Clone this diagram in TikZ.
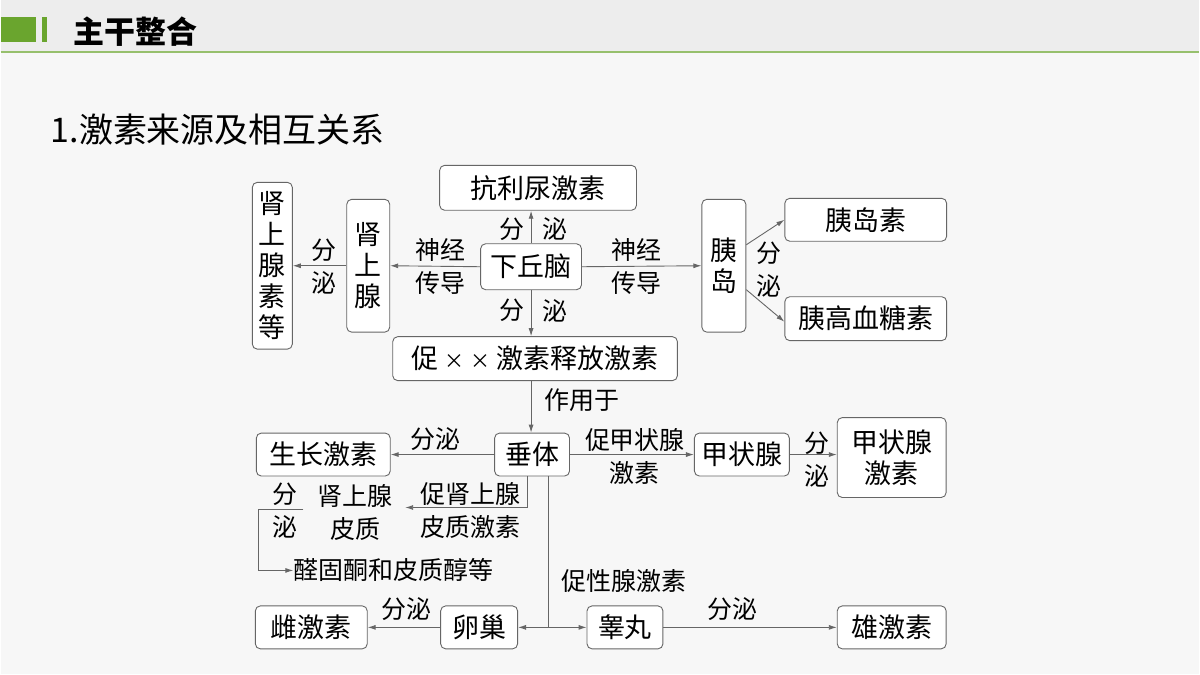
\documentclass[tikz,border=0pt]{standalone}
\usepackage{fontspec}
\setmainfont{Noto Sans CJK SC}
\usetikzlibrary{arrows.meta,positioning}
\definecolor{lineg}{HTML}{666666}
\definecolor{hdr}{HTML}{6AA52E}
\tikzset{
  box/.style={draw=lineg, rounded corners=5pt, line width=0.9pt, fill=white,
    inner sep=0pt, align=center, font=\fontsize{27}{31}\selectfont},
  lbl/.style={align=center, inner sep=0pt, font=\fontsize{25}{33}\selectfont},
  arr/.style={draw=lineg, line width=0.9pt, -{Latex[length=8pt,width=5pt]}},
  ln/.style={draw=lineg, line width=0.9pt}
}
\begin{document}
\begin{tikzpicture}[x=1pt,y=-1pt]

% background and header
\fill[white!95!black] (0,0) rectangle (1200,675);
\fill[white!97!black] (0,52) rectangle (1200,675);
\fill[white!93!black] (0,0) rectangle (1200,52);
\draw[hdr!70!white, line width=1.2pt] (0,52) -- (1200,52);
\fill[hdr] (0,17) rectangle (35,42);
\fill[hdr] (41,17) rectangle (46,42);
\node[anchor=west, inner sep=0pt, font=\fontsize{31}{31}\selectfont\bfseries] (head) at (73,32) {主干整合};
\node[anchor=west, inner sep=0pt, font=\fontsize{34}{34}\selectfont] (sub) at (50,130) {1.激素来源及相互关系};

% the boxes
\node[box, minimum width=40pt, minimum height=167pt] (adrs) at (272,266) {肾\\上\\腺\\素\\等};
\node[box, minimum width=43pt, minimum height=133pt] (adr) at (368,266) {肾\\上\\腺};
\node[box, minimum width=197pt, minimum height=45pt] (adh) at (538,188) {抗利尿激素};
\node[box, minimum width=101pt, minimum height=46pt] (hyp) at (531,267) {下丘脑};
\node[box, minimum width=44pt, minimum height=133pt] (islet) at (724,266) {胰\\岛};
\node[box, minimum width=162pt, minimum height=43pt] (ins) at (866,220) {胰岛素};
\node[box, minimum width=162pt, minimum height=44pt] (glu) at (866,319) {胰高血糖素};
\node[box, minimum width=285pt, minimum height=44pt] (rh) at (535,359) {促 {\fontsize{20}{20}\selectfont×} {\fontsize{20}{20}\selectfont×} 激素释放激素};
\node[box, minimum width=134pt, minimum height=43pt] (gh) at (323,455) {生长激素};
\node[box, minimum width=75pt, minimum height=43pt] (pit) at (532,455) {垂体};
\node[box, minimum width=95pt, minimum height=43pt] (thy) at (742,455) {甲状腺};
\node[box, minimum width=109pt, minimum height=80pt] (th) at (892,458) {甲状腺\\激素};
\node[box, minimum width=77pt, minimum height=43pt] (ova) at (479,628) {卵巢};
\node[box, minimum width=112pt, minimum height=43pt] (est) at (311,628) {雌激素};
\node[box, minimum width=76pt, minimum height=43pt] (tes) at (625,628) {睾丸};
\node[box, minimum width=109pt, minimum height=43pt] (andr) at (892,628) {雄激素};
\node[lbl, anchor=west] (cort) at (293,571) {醛固酮和皮质醇等};

% helper points
\coordinate (acA) at (527,508);
\coordinate (acB) at (405,508);
\coordinate (sdA) at (303,510);
\coordinate (sdB) at (258,510);
\coordinate (sdC) at (258,571);
\coordinate (gnA) at (548,628);

% connectors
\draw[arr] (hyp.west) -- (adr.east);
\draw[arr] (adr.west) -- (adrs.east);
\draw[arr] (hyp.north) -- (adh.south -| hyp.north);
\draw[arr] (hyp.south) -- (rh.north -| hyp.south);
\draw[arr] (hyp.east) -- (islet.west);
\draw[arr] ([yshift=21pt]islet.east) -- (ins.west);
\draw[arr] ([yshift=-24pt]islet.east) -- ([yshift=-3pt]glu.west);
\draw[arr] (rh.south -| hyp.south) -- (pit.north -| hyp.south);
\draw[arr] (pit.west) -- (gh.east);
\draw[arr] (pit.east) -- (thy.west);
\draw[arr] (thy.east) -- (th.west |- thy.east);
\draw[ln] (pit.south -| acA) -- (acA);
\draw[arr] (acA) -- (acB);
\draw[ln] (sdA) -- (sdB) -- (sdC);
\draw[arr] (sdC) -- (cort.west);
\draw[ln] (pit.south -| gnA) -- (gnA);
\draw[arr] (gnA) -- (ova.east);
\draw[arr] (gnA) -- (tes.west);
\draw[arr] (ova.west) -- (est.east);
\draw[arr] (tes.east) -- (andr.west);

% labels
\node[lbl] (l1) at (440,267) {神经\\传导};
\node[lbl] (l2) at (637,267) {神经\\传导};
\node[lbl] (l3) at (512,229) {分};
\node[lbl] (l4) at (555,229) {泌};
\node[lbl] (l5) at (512,311) {分};
\node[lbl] (l6) at (555,311) {泌};
\node[lbl] (l7) at (324,267) {分\\泌};
\node[lbl] (l8) at (769,270) {分\\泌};
\node[lbl] (l9) at (582,401) {作用于};
\node[lbl] (l10) at (435,440) {分泌};
\node[lbl] (l11) at (635,457) {促甲状腺\\激素};
\node[lbl] (l12) at (817,460) {分\\泌};
\node[lbl] (l13) at (285,495) {分};
\node[lbl] (l14) at (285,527) {泌};
\node[lbl] (l15) at (355,513) {肾上腺\\皮质};
\node[lbl] (l16) at (470,511) {促肾上腺\\皮质激素};
\node[lbl] (l17) at (624,582) {促性腺激素};
\node[lbl] (l18) at (406,610) {分泌};
\node[lbl] (l19) at (733,610) {分泌};

\end{tikzpicture}
\end{document}
